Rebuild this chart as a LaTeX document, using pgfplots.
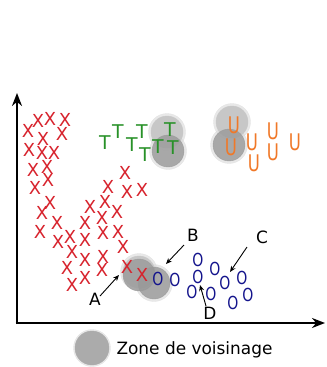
\documentclass[border=0pt]{standalone}
\usepackage{pgfplots}
\pgfplotsset{compat=1.18}
\usepackage{fontspec}
\setmainfont{DejaVu Sans}
\usetikzlibrary{arrows.meta}
\definecolor{xred}{RGB}{215,35,45}
\definecolor{tgreen}{RGB}{40,145,40}
\definecolor{uorange}{RGB}{240,120,40}
\definecolor{oblue}{RGB}{20,20,140}
\pgfplotsset{letter/.style={only marks, mark=none, nodes near coords={#1},
  every node near coord/.append style={anchor=center, inner sep=0pt}}}
\begin{document}
\begin{tikzpicture}
\begin{axis}[
  scale only axis, width=326bp, height=367bp,
  xmin=0, xmax=326, ymin=0, ymax=367, y dir=reverse,
  hide axis, clip=false,
]
\addplot[draw=none] coordinates {(0,0) (326,367)};
% soft halo
\addplot[only marks, mark=*, color=black!15, mark size=18.5bp, mark options={fill=black!15, draw=black!15, opacity=0.6}] coordinates {(167,132) (232,122) (139,272) (168,151) (229,145) (154,283) (92,348)};
% neighbourhood zones (light)
\addplot[only marks, mark=*, color=black!22, mark size=16bp, mark options={fill=black!22, draw=black!22}] coordinates {(167,132) (232,122) (139,272)};
% neighbourhood zones (dark)
\addplot[only marks, mark=*, color=black!40, mark size=16bp, mark options={fill=black!40, draw=black!40, opacity=0.8}] coordinates {(168,151) (229,145) (154,283) (139,275)};
% legend zone
\addplot[only marks, mark=*, color=black!33, mark size=17bp, mark options={fill=black!33, draw=black!33}] coordinates {(92,348)};
% X class
\addplot[letter=X, every node near coord/.append style={font=\fontsize{18}{18}\selectfont, text=xred}]
  coordinates {
  (38,121) (50,119) (65,120) (28,131) (62,134) (43,139)
  (29,150) (42,153) (54,153) (33,170) (47,167) (48,180)
  (35,188) (50,203) (42,213) (40,232) (57,223)
  (58,242) (70,237) (72,252) (85,223) (85,240) (67,268)
  (72,285) (85,278) (85,260) (103,257) (102,270) (90,207)
  (105,202) (117,212) (102,218) (118,232) (103,233) (123,247)
  (127,267) (142,275) (125,173) (108,187) (127,192) (142,190)
  };
% T class
\addplot[letter=T, every node near coord/.append style={font=\fontsize{19}{18}\selectfont, text=tgreen}]
  coordinates {
  (105,143) (118,132) (132,145) (142,132) (145,155) (158,147) (170,130) (173,148)
  };
% U class
\addplot[letter=U, every node near coord/.append style={font=\fontsize{23}{23}\selectfont, text=uorange, xscale=0.72}]
  coordinates {
  (234,125) (231,147) (252,142) (273,131) (254,163) (273,152) (295,142)
  };
% O class
\addplot[letter=O, every node near coord/.append style={font=\fontsize{18}{18}\selectfont, text=oblue, xscale=0.78}]
  coordinates {
  (158,279) (175,280) (198,260) (198,277) (215,269) (192,292)
  (211,294) (225,283) (242,278) (233,303) (248,295)
  };
% main axes
\addplot[black, line width=2.6bp, -{Stealth[length=13bp, width=10bp]}] coordinates {(17,324) (17,93)};
\addplot[black, line width=2.6bp, -{Stealth[length=13bp, width=10bp]}] coordinates {(15.7,323) (325,323)};
% annotation arrows
\addplot[black, line width=0.9bp, -{Stealth[length=6bp, width=5bp]}] coordinates {(100,296) (119,275)};
\addplot[black, line width=0.9bp, -{Stealth[length=6bp, width=5bp]}] coordinates {(184,245) (166,264)};
\addplot[black, line width=0.9bp, -{Stealth[length=6bp, width=5bp]}] coordinates {(247,247) (230,272)};
\addplot[black, line width=0.9bp, -{Stealth[length=6bp, width=5bp]}] coordinates {(206,306) (200,285)};
\node[font=\fontsize{17}{17}\selectfont] at (axis cs:95,299) {A};
\node[font=\fontsize{17}{17}\selectfont] at (axis cs:193,235) {B};
\node[font=\fontsize{17}{17}\selectfont] at (axis cs:262,237) {C};
\node[font=\fontsize{17}{17}\selectfont] at (axis cs:210,313) {D};
\node[anchor=west, font=\fontsize{17}{17}\selectfont] at (axis cs:113,350) {Zone de voisinage};
\end{axis}
\end{tikzpicture}
\end{document}
